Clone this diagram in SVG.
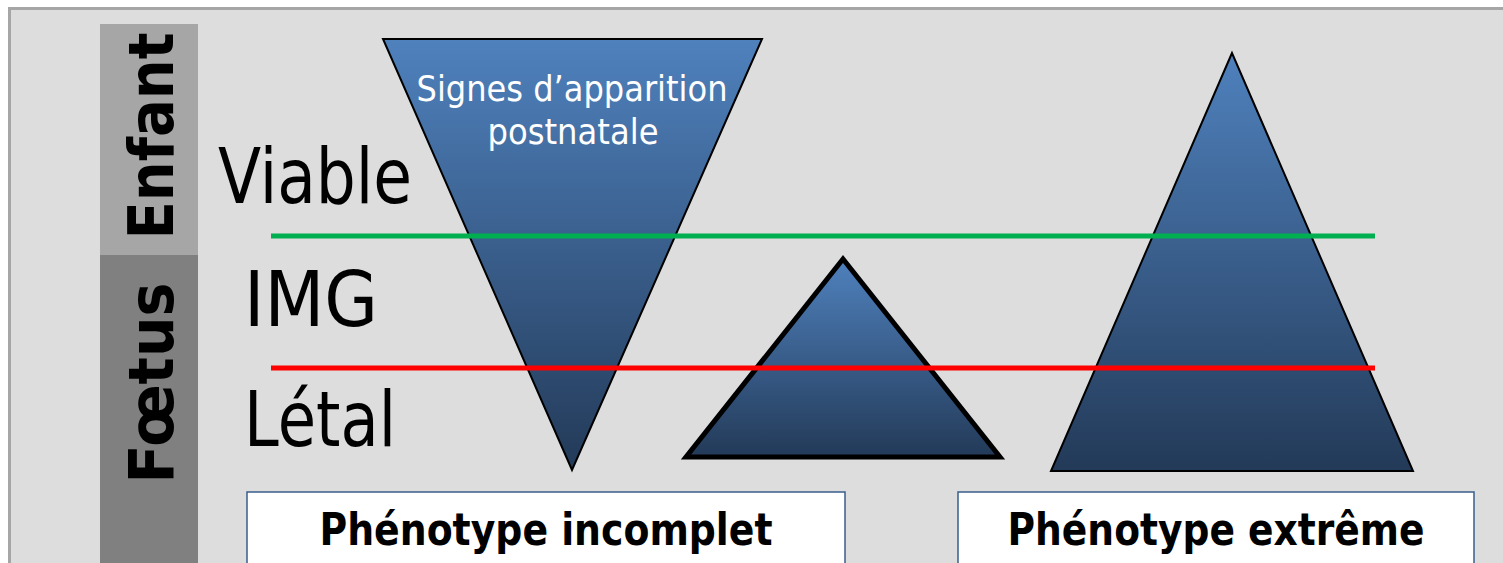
<svg xmlns="http://www.w3.org/2000/svg" width="1503" height="563" viewBox="0 0 1503 563">
<style>
.lbl{font-family:"DejaVu Sans","Liberation Sans",sans-serif;fill:#000}
.side{font-family:"DejaVu Sans",sans-serif;font-weight:bold;font-size:62px;fill:#000}
.big{font-size:76px}
.box{fill:#fff;stroke:#385d8a;stroke-width:1.5}
.boxt{font-family:"DejaVu Sans",sans-serif;font-weight:bold;font-size:44px;fill:#000}
.wt{font-family:"DejaVu Sans","Liberation Sans",sans-serif;font-size:36px;fill:#fff}
</style>
<defs>
<linearGradient id="g1" x1="0" y1="0" x2="0" y2="1">
<stop offset="0" stop-color="#4f81bd"/>
<stop offset="1" stop-color="#233a58"/>
</linearGradient>
</defs>
<rect x="0" y="0" width="1503" height="563" fill="#ffffff"/>
<rect x="9.5" y="8.5" width="1510" height="570" fill="#dddddd" stroke="#a6a6a6" stroke-width="3"/>
<g id="enfant">
<rect x="100" y="24" width="98" height="231" fill="#a6a6a6"/>
<text class="side" transform="translate(173,136) rotate(-90)" text-anchor="middle" textLength="207" lengthAdjust="spacingAndGlyphs">Enfant</text>
</g>
<g id="foetus">
<rect x="100" y="255" width="98" height="310" fill="#808080"/>
<text class="side" transform="translate(173,383) rotate(-90)" text-anchor="middle" textLength="201" lengthAdjust="spacingAndGlyphs">Fœtus</text>
</g>
<g id="inv-triangle">
<polygon points="383,39 762,39 572,470" fill="url(#g1)" stroke="#000" stroke-width="2"/>
<text class="wt" x="572" y="101" text-anchor="middle" textLength="311" lengthAdjust="spacingAndGlyphs">Signes d’apparition</text>
<text class="wt" x="573" y="144" text-anchor="middle" textLength="171" lengthAdjust="spacingAndGlyphs">postnatale</text>
</g>
<g id="small-triangle">
<polygon points="843,259 686,457 1000,457" fill="url(#g1)" stroke="#000" stroke-width="5" stroke-linejoin="miter"/>
</g>
<g id="big-triangle">
<polygon points="1232,53 1051,471 1413,471" fill="url(#g1)" stroke="#000" stroke-width="2"/>
</g>
<g id="connectors">
<line x1="271" y1="236" x2="1375" y2="236" stroke="#00b050" stroke-width="5"/>
<line x1="271" y1="368" x2="1375" y2="368" stroke="#ff0000" stroke-width="5"/>
</g>
<g id="viable"><text class="lbl big" x="218" y="203" textLength="194" lengthAdjust="spacingAndGlyphs">Viable</text></g>
<g id="img"><text class="lbl big" x="244" y="326" textLength="134" lengthAdjust="spacingAndGlyphs">IMG</text></g>
<g id="letal"><text class="lbl big" x="244" y="446" textLength="152" lengthAdjust="spacingAndGlyphs">Létal</text></g>
<g id="box-incomplet">
<rect class="box" x="247" y="492" width="598" height="80"/>
<text class="boxt" x="546" y="545" text-anchor="middle" textLength="453" lengthAdjust="spacingAndGlyphs">Phénotype incomplet</text>
</g>
<g id="box-extreme">
<rect class="box" x="958" y="492" width="516" height="80"/>
<text class="boxt" x="1216" y="545" text-anchor="middle" textLength="417" lengthAdjust="spacingAndGlyphs">Phénotype extrême</text>
</g>
</svg>
